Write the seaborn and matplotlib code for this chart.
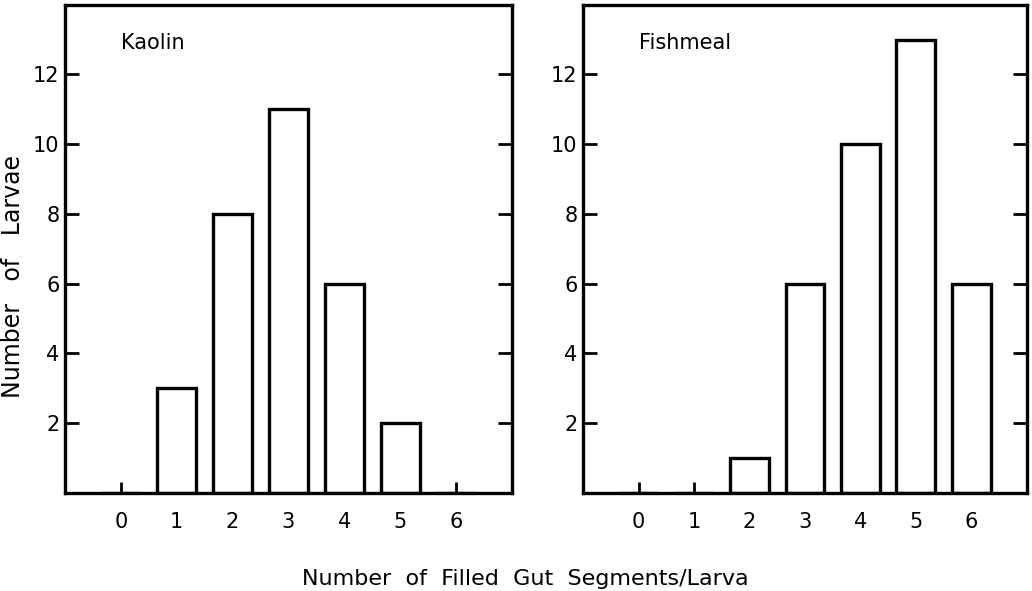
import matplotlib
matplotlib.use("Agg")
import matplotlib.pyplot as plt
import seaborn as sns
import pandas as pd

segments = [0, 1, 2, 3, 4, 5, 6]
kaolin = [0, 3, 8, 11, 6, 2, 0]
fishmeal = [0, 0, 1, 6, 10, 13, 6]
panel_titles = ["Kaolin", "Fishmeal"]
yticks = [2, 4, 6, 8, 10, 12]

sns.set_theme(style="white")
plt.rcParams['font.family'] = ['DejaVu Sans']
plt.rcParams['text.color'] = 'black'
plt.rcParams['xtick.color'] = 'black'
plt.rcParams['ytick.color'] = 'black'
plt.rcParams['axes.labelcolor'] = 'black'

fig = plt.figure(figsize=(10.32, 5.91), dpi=100)
ax1 = fig.add_axes([0.063, 0.166, 0.433, 0.826])
ax2 = fig.add_axes([0.565, 0.166, 0.430, 0.826])

for ax, vals, title in [(ax1, kaolin, panel_titles[0]), (ax2, fishmeal, panel_titles[1])]:
    df = pd.DataFrame({"seg": segments, "n": vals})
    sns.barplot(data=df, x="seg", y="n", order=segments, color="white",
                edgecolor="black", linewidth=2.4, width=0.7, ax=ax)
    ax.set_xlim(-1, 7)
    ax.set_ylim(0, 14)
    ax.set_yticks(yticks)
    ax.set_yticklabels([str(t) for t in yticks], fontsize=15)
    ax.set_xticks(range(len(segments)))
    ax.set_xticklabels([str(s) for s in segments], fontsize=15)
    ax.tick_params(axis="y", direction="in", length=10, width=2, left=True, right=True, pad=4)
    ax.tick_params(axis="x", direction="in", length=8, width=2, bottom=True, top=False, pad=14)
    for sp in ax.spines.values():
        sp.set_visible(True)
        sp.set_color("black")
        sp.set_linewidth(2.4)
    ax.set_xlabel("")
    ax.set_ylabel("")
    ax.text(0, 12.9, title, fontsize=15, ha="left", va="center", color="black")

ax1.set_ylabel("Number   of   Larvae", fontsize=17)
ax1.yaxis.set_label_coords(-0.09, 0.443)
fig.text(0.509, 0.02, "Number  of  Filled  Gut  Segments/Larva", fontsize=16,
         ha="center", va="center", color="black")

fig.savefig("out.png", dpi=100)
